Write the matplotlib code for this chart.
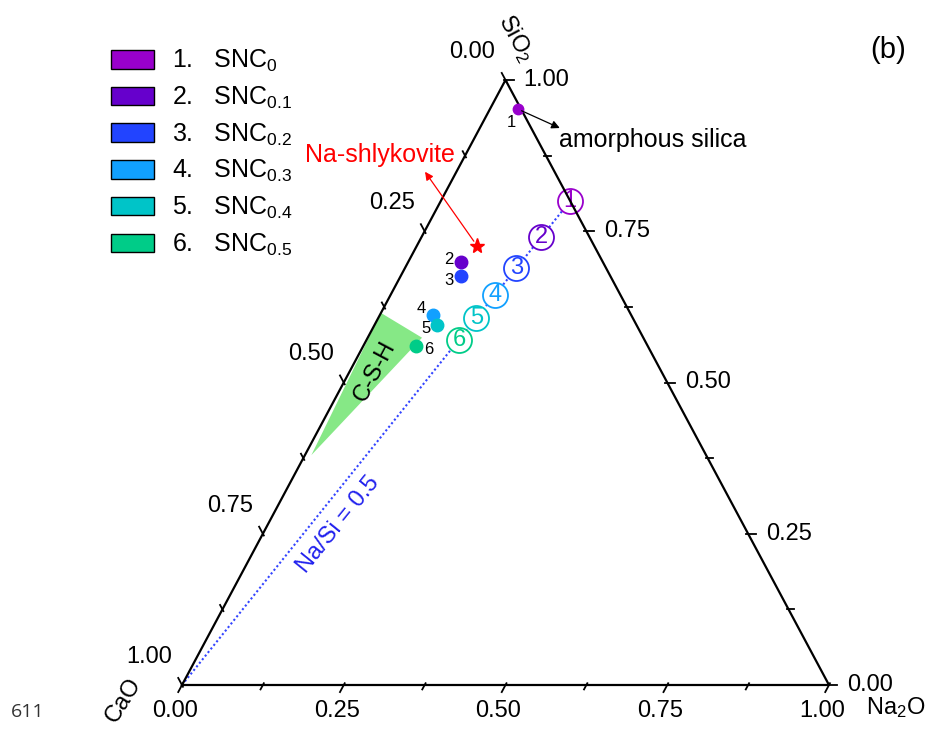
import matplotlib
matplotlib.use("Agg")
import matplotlib.pyplot as plt
from matplotlib.patches import Polygon, Patch

plt.rcParams['font.family'] = ['Liberation Sans', 'DejaVu Sans']
plt.rcParams['mathtext.fontset'] = 'custom'
plt.rcParams['mathtext.rm'] = 'Liberation Sans'
plt.rcParams['mathtext.default'] = 'regular'

# ── Data (mole fractions CaO / Na2O / SiO2) ──────────────────────────────────
SAMPLES = ['1', '2', '3', '4', '5', '6']
LEGEND_NAMES = ['SNC$_{0}$', 'SNC$_{0.1}$', 'SNC$_{0.2}$',
                'SNC$_{0.3}$', 'SNC$_{0.4}$', 'SNC$_{0.5}$']
COLORS = ['#9900CC', '#6600CC', '#2244FF', '#11A0FF', '#00C4C8', '#00CC88']

# measured compositions (filled dots)
MEAS_CAO  = [0.005, 0.219, 0.231, 0.306, 0.308, 0.358]
MEAS_NA2O = [0.043, 0.082, 0.093, 0.082, 0.097, 0.082]
MEAS_SIO2 = [0.952, 0.699, 0.676, 0.612, 0.595, 0.560]

# nominal compositions (circled numbers, Na/Si = 0.5)
NOM_CAO  = [0.000, 0.074, 0.138, 0.194, 0.242, 0.286]
NOM_NA2O = [0.200, 0.185, 0.172, 0.161, 0.152, 0.143]
NOM_SIO2 = [0.800, 0.741, 0.690, 0.645, 0.606, 0.571]

# Na/Si = 0.5 line
LINE_CAO  = [1.0, 0.0]
LINE_NA2O = [0.0, 0.2]
LINE_SIO2 = [0.0, 0.8]

# Na-shlykovite
SHLY_CAO, SHLY_NA2O, SHLY_SIO2 = 0.181, 0.093, 0.726

# C-S-H field
CSH_CAO  = [0.385, 0.342, 0.610]
CSH_NA2O = [0.000, 0.084, 0.010]
CSH_SIO2 = [0.615, 0.574, 0.380]

MAJOR = [0.0, 0.25, 0.5, 0.75, 1.0]
MINOR = [0.125, 0.375, 0.625, 0.875]

# ── Figure / geometry ────────────────────────────────────────────────────────
W, H = 930, 731
SX, SY = 647, 605            # pixels per unit of the triangle axes
PT = 72 / 100                # points per pixel
fig = plt.figure(figsize=(W / 100, H / 100), dpi=100)
ax = fig.add_axes([182 / W, 46 / H, SX / W, SY / H])
ax.set_xlim(0, 1)
ax.set_ylim(0, 1)
ax.axis("off")


def tern(ca, na, si):
    t = ca + na + si
    return (na + si / 2) / t, si / t


def tern_list(ca, na, si):
    pts = [tern(c, n, s) for c, n, s in zip(ca, na, si)]
    return [p[0] for p in pts], [p[1] for p in pts]


def tick(p, d, length):
    x, y = p
    ax.plot([x - d[0] * 2 / SX, x + d[0] * length / SX],
            [y - d[1] * 2 / SY, y + d[1] * length / SY],
            color='black', lw=1.3, clip_on=False, zorder=6)


def label(p, text, dx, dy, size=17, color='black', ha='center', va='center',
          rot=0):
    ax.annotate(text, xy=p, xytext=(dx * PT, dy * PT),
                textcoords='offset points', ha=ha, va=va, fontsize=size,
                color=color, rotation=rot, annotation_clip=False, zorder=8)


# ── Triangle frame ───────────────────────────────────────────────────────────
corners = [tern(1, 0, 0), tern(0, 1, 0), tern(0, 0, 1), tern(1, 0, 0)]
ax.plot([c[0] for c in corners], [c[1] for c in corners],
        color='black', lw=1.6, clip_on=False, zorder=6)

DIR_BOT = (-0.4716, -0.8819)    # parallel to left edge, outward
DIR_RIGHT = (1.0, 0.0)
DIR_LEFT = (-0.4716, 0.8819)    # parallel to right edge, outward

for v in MAJOR + MINOR:
    L = 8 if v in MAJOR else 5
    tick(tern(1 - v, v, 0), DIR_BOT, L)
    tick(tern(0, 1 - v, v), DIR_RIGHT, L)
    tick(tern(v, 0, 1 - v), DIR_LEFT, L)

for v in MAJOR:
    label(tern(1 - v, v, 0), f"{v:.2f}", -7, -26)
    label(tern(0, 1 - v, v), f"{v:.2f}", 18, 0, ha='left')
    label(tern(v, 0, 1 - v), f"{v:.2f}", -33, 28)

label(tern(0, 0, 1), "SiO$_2$", 10, 42, rot=-62)
label(tern(1, 0, 0), "CaO", -58, -15, rot=58)
label(tern(0, 1, 0), "Na$_2$O", 67, -23)

# ── C-S-H field ──────────────────────────────────────────────────────────────
cx, cy = tern_list(CSH_CAO, CSH_NA2O, CSH_SIO2)
ax.add_patch(Polygon(list(zip(cx, cy)), closed=True, facecolor='#86E886',
                     edgecolor='none', zorder=2))
label((sum(cx) / 3, sum(cy) / 3), "C-S-H", 3, -3, size=17, rot=62)

# ── Na/Si = 0.5 line + nominal compositions ──────────────────────────────────
lx, ly = tern_list(LINE_CAO, LINE_NA2O, LINE_SIO2)
ax.plot(lx, ly, color='#3344FF', lw=1.5, ls=(0, (1, 1.2)), zorder=3)
label(tern(0.62, 0.076, 0.304), "Na/Si = 0.5", 9, -23, size=17,
      color='#2222EE', rot=51)

nx, ny = tern_list(NOM_CAO, NOM_NA2O, NOM_SIO2)
for x, y, s, c in zip(nx, ny, SAMPLES, COLORS):
    ax.plot(x, y, 'o', ms=18, mfc='white', mec=c, mew=1.3, zorder=4,
            clip_on=False)
    ax.text(x, y, s, color=c, fontsize=17, ha='center', va='center', zorder=5)

# ── Measured compositions ────────────────────────────────────────────────────
mx, my = tern_list(MEAS_CAO, MEAS_NA2O, MEAS_SIO2)
offsets = [(-6, -13), (-12, 3), (-12, -4), (-12, 6), (-11, -3), (13, -3)]
for x, y, s, c, (dx, dy) in zip(mx, my, SAMPLES, COLORS, offsets):
    ax.plot(x, y, 'o', ms=9 if s != '1' else 7.5, color=c, zorder=7)
    label((x, y), s, dx, dy, size=12)

# amorphous silica arrow
p1 = (mx[0], my[0])
ax.annotate("", xy=p1, xytext=(42 * PT, -19 * PT), textcoords='offset points',
            arrowprops=dict(arrowstyle='<|-', color='black', lw=0.9,
                            mutation_scale=12, shrinkA=0, shrinkB=3),
            annotation_clip=False, zorder=8)
label(p1, "amorphous silica", 41, -31, size=18, ha='left')

# Na-shlykovite
ps = tern(SHLY_CAO, SHLY_NA2O, SHLY_SIO2)
ax.plot(*ps, '*', color='red', ms=11, zorder=7)
ax.annotate("", xy=ps, xytext=(-52 * PT, 74 * PT), textcoords='offset points',
            arrowprops=dict(arrowstyle='<|-', color='red', lw=0.9,
                            mutation_scale=12, shrinkA=0, shrinkB=4),
            annotation_clip=False, zorder=8)
label(ps, "Na-shlykovite", -97, 91, size=18, color='red')

# ── Legend ───────────────────────────────────────────────────────────────────
handles = [Patch(facecolor=c, edgecolor='black', lw=1.0) for c in COLORS]
names = [f"{s}.   {n}" for s, n in zip(SAMPLES, LEGEND_NAMES)]
fig.legend(handles, names, loc='upper left', bbox_to_anchor=(111 / W, 1 - 48 / H),
           frameon=False, fontsize=18, handlelength=1.72, handleheight=0.76,
           handletextpad=0.72, labelspacing=0.42, borderpad=0, borderaxespad=0)

fig.text(888 / W, 1 - 50 / H, "(b)", fontsize=21, ha='center', va='center')
fig.text(28 / W, 1 - 712 / H, "611", fontsize=14, ha='center', va='center',
         color='#333333', family=['Open Sans', 'DejaVu Sans'])

fig.savefig("out.png", dpi=100)
